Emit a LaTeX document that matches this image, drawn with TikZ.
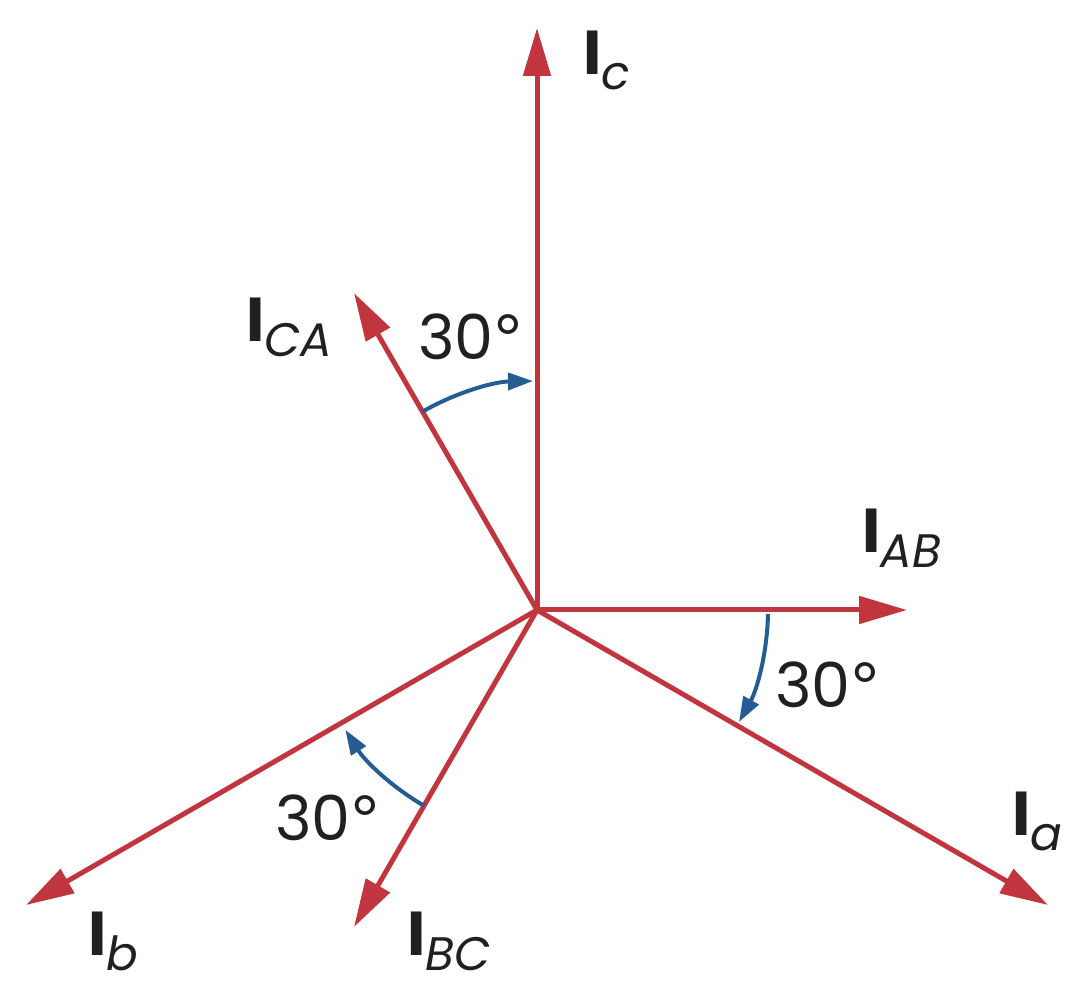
\documentclass[tikz,border=0pt]{standalone}
\usepackage{fontspec}
\setmainfont{Poppins}
\newfontfamily\degfont{Lato}
\usetikzlibrary{arrows.meta,calc}
\definecolor{vred}{HTML}{C1353E}
\definecolor{vblue}{HTML}{255D92}
\definecolor{ink}{HTML}{231F20}
\newcommand\phasor[1]{{\fontsize{62}{62}\selectfont\bfseries I}{\fontsize{47}{47}\selectfont\itshape\raisebox{-15pt}{#1}}}
\newcommand\thirtydeg{{\fontsize{62}{62}\selectfont 30\kern2pt{\degfont °}}}
\tikzset{
  vec/.style={draw=vred, line width=5pt, -{Triangle[length=48pt,width=27pt]}},
  angarc/.style={draw=vblue, line width=4pt, -{Triangle[length=25pt,width=17pt]}},
  lab/.style={inner sep=0pt, text=ink, anchor=base west},
}
\begin{document}
\begin{tikzpicture}[x=1pt,y=1pt]
\useasboundingbox (0,0) rectangle (1084,999);
\coordinate (O) at (537,389);
\coordinate (tc) at ($(O)+(90:582)$);
\coordinate (tca) at ($(O)+(120:366)$);
\coordinate (tab) at ($(O)+(0:370)$);
\coordinate (ta) at ($(O)+(-30:590)$);
\coordinate (tb) at ($(O)+(210:590)$);
\coordinate (tbc) at ($(O)+(240:366)$);
\draw[vec] (O) -- (tc);
\draw[vec] (O) -- (tca);
\draw[vec] (O) -- (tab);
\draw[vec] (O) -- (ta);
\draw[vec] (O) -- (tb);
\draw[vec] (O) -- (tbc);
\coordinate (a1) at ($(O)+(120:229)$);
\coordinate (a2) at ($(O)+(-1:231)$);
\coordinate (a3) at ($(O)+(240:226)$);
\draw[angarc] (a1) arc[start angle=120, end angle=91, radius=229];
\draw[angarc] (a2) arc[start angle=-1, end angle=-29, radius=231];
\draw[angarc] (a3) arc[start angle=240, end angle=212, radius=226];
\node[lab] (lc) at (583,924) {\phasor{c}};
\node[lab] (lca) at (246,657) {\phasor{CA}};
\node[lab] (lab) at (862,446) {\phasor{AB}};
\node[lab] (la) at (1012,164) {\phasor{a}};
\node[lab] (lb) at (88,44) {\phasor{b}};
\node[lab] (lbc) at (407,44) {\phasor{BC}};
\node[lab] (d1) at (418,639) {\thirtydeg};
\node[lab] (d2) at (775,291) {\thirtydeg};
\node[lab] (d3) at (275,159) {\thirtydeg};
\end{tikzpicture}
\end{document}
